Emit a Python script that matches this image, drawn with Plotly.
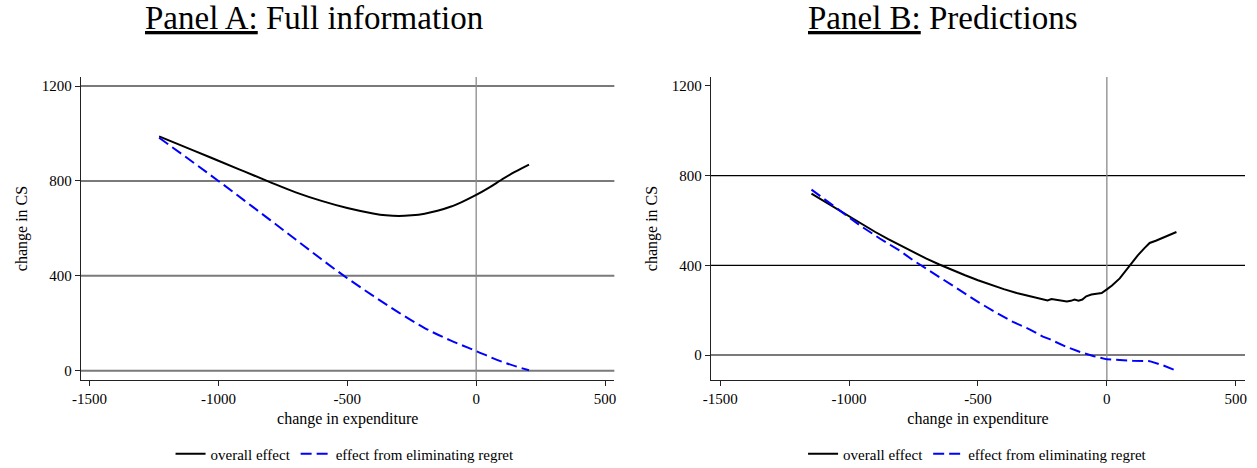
import plotly.graph_objects as go

# ---- Panel A: full information ----
a_overall_x = [-1230, -1100, -1000, -900, -800, -700, -600, -500, -400, -350,
               -300, -250, -200, -150, -100, -50, 0, 50, 100, 150, 205]
a_overall_y = [988, 930, 885, 840, 795, 752, 716, 686, 663, 655,
               652, 655, 662, 674, 691, 714, 741, 772, 806, 838, 869]

a_regret_x = [-1230, -1100, -1000, -900, -800, -700, -600, -500, -400, -300,
              -200, -100, 0, 100, 205]
a_regret_y = [982, 880, 800, 718, 636, 553, 470, 390, 316, 245,
              180, 128, 83, 38, 2]

# ---- Panel B: predictions ----
b_overall_x = [-1146, -1100, -1050, -1000, -950, -900, -850, -800, -750, -700,
               -650, -600, -550, -500, -450, -400, -350, -300, -250, -230,
               -215, -200, -185, -170, -155, -140, -125, -110, -95, -80,
               -60, -40, -20, 0, 20, 50, 80, 100, 120, 145,
               166, 190, 220, 245, 270]
b_overall_y = [720, 688, 652, 616, 582, 550, 518, 488, 458, 430,
               404, 379, 356, 334, 313, 294, 277, 262, 249, 244,
               250, 248, 243, 244, 239, 242, 248, 243, 248, 262,
               270, 274, 277, 293, 310, 342, 388, 416, 445, 476,
               500, 510, 525, 538, 549]

b_regret_x = [-1146, -1100, -1050, -1000, -950, -881, -800, -752, -700, -623,
              -550, -494, -430, -364, -300, -248, -222, -157, -106, -50,
              0, 50, 101, 166, 217, 270]
b_regret_y = [738, 700, 657, 614, 572, 520, 463, 423, 385, 327,
              272, 233, 190, 148, 115, 82, 71, 37, 15, -5,
              -19, -23, -25, -27, -45, -70]

x_ticks = [-1500, -1000, -500, 0, 500]
x_tick_text = ["-1500", "-1000", "-500", "0", "500"]
y_ticks = [0, 400, 800, 1200]
y_tick_text = ["0", "400", "800", "1200"]
a_gridlines = [0, 400, 800, 1200]
b_gridlines = [0, 400, 800]

panel_titles = ["<u>Panel A:</u> Full information", "<u>Panel B:</u> Predictions"]
series_names = ["overall effect", "effect from eliminating regret"]

SERIF = "Liberation Serif"
BLUE = "#0000ff"

fig = go.Figure()

panels = [
    ("x", "y", "legend", a_overall_x, a_overall_y, a_regret_x, a_regret_y, "spline"),
    ("x2", "y2", "legend2", b_overall_x, b_overall_y, b_regret_x, b_regret_y, "linear"),
]
for xa, ya, lg, ox, oy, rx, ry, shape in panels:
    fig.add_trace(go.Scatter(
        x=ox, y=oy, mode="lines", name=series_names[0], xaxis=xa, yaxis=ya,
        legend=lg, line=dict(color="black", width=2, shape=shape),
    ))
    fig.add_trace(go.Scatter(
        x=rx, y=ry, mode="lines", name=series_names[1], xaxis=xa, yaxis=ya,
        legend=lg, line=dict(color=BLUE, width=2, dash="11px,5px", shape=shape),
    ))

# horizontal reference lines
for v in a_gridlines:
    fig.add_shape(type="line", xref="x domain", yref="y", x0=0, x1=1, y0=v, y1=v,
                  line=dict(color="#7a7a7a", width=2), layer="below")
for v in b_gridlines:
    col, w = ("#7a7a7a", 2) if v == 0 else ("black", 1.2)
    fig.add_shape(type="line", xref="x2 domain", yref="y2", x0=0, x1=1, y0=v, y1=v,
                  line=dict(color=col, width=w), layer="below")
# vertical line at zero change in expenditure
for xr, yr in [("x", "y domain"), ("x2", "y2 domain")]:
    fig.add_shape(type="line", xref=xr, yref=yr, x0=0, x1=0, y0=0, y1=1,
                  line=dict(color="#8a8a8a", width=1.3), layer="below")

axis_common = dict(
    showline=True, linecolor="#222", linewidth=1.3, ticks="outside", ticklen=5,
    tickcolor="#222", tickwidth=1, showgrid=False, zeroline=False,
    tickfont=dict(family=SERIF, size=15, color="black"),
)

legend_common = dict(
    orientation="h", xanchor="center", yref="container", xref="container",
    y=0.0299, yanchor="middle", font=dict(family=SERIF, size=15),
    itemwidth=30, bgcolor="rgba(0,0,0,0)",
)

fig.update_layout(
    width=1257, height=468,
    margin=dict(l=81, r=12, t=77, b=88, autoexpand=False),
    paper_bgcolor="white", plot_bgcolor="white",
    font=dict(family=SERIF, color="black"),
    xaxis=dict(domain=[0, 0.4582], range=[-1533, 536], tickvals=x_ticks, ticktext=x_tick_text,
               title=dict(text="change in expenditure", font=dict(size=16), standoff=6),
               anchor="y", **axis_common),
    yaxis=dict(domain=[0, 1], range=[-39, 1238], tickvals=y_ticks, ticktext=y_tick_text,
               title=dict(text="change in CS", font=dict(size=16), standoff=10),
               anchor="x", **axis_common),
    xaxis2=dict(domain=[0.5412, 1], range=[-1536, 536], tickvals=x_ticks, ticktext=x_tick_text,
                title=dict(text="change in expenditure", font=dict(size=16), standoff=6),
                anchor="y2", **axis_common),
    yaxis2=dict(domain=[0, 1], range=[-111, 1240], tickvals=y_ticks, ticktext=y_tick_text,
                title=dict(text="change in CS", font=dict(size=16), standoff=10),
                anchor="x2", **axis_common),
    legend=dict(x=0.2745, **legend_common),
    legend2=dict(x=0.7777, **legend_common),
    showlegend=True,
)

for txt, xc in zip(panel_titles, [0.2002, 0.7397]):
    fig.add_annotation(text=txt, xref="paper", yref="paper", x=xc, y=1.1947,
                       xanchor="center", yanchor="middle", showarrow=False,
                       font=dict(family=SERIF, size=33, color="black"))

fig.write_html("out.html")
